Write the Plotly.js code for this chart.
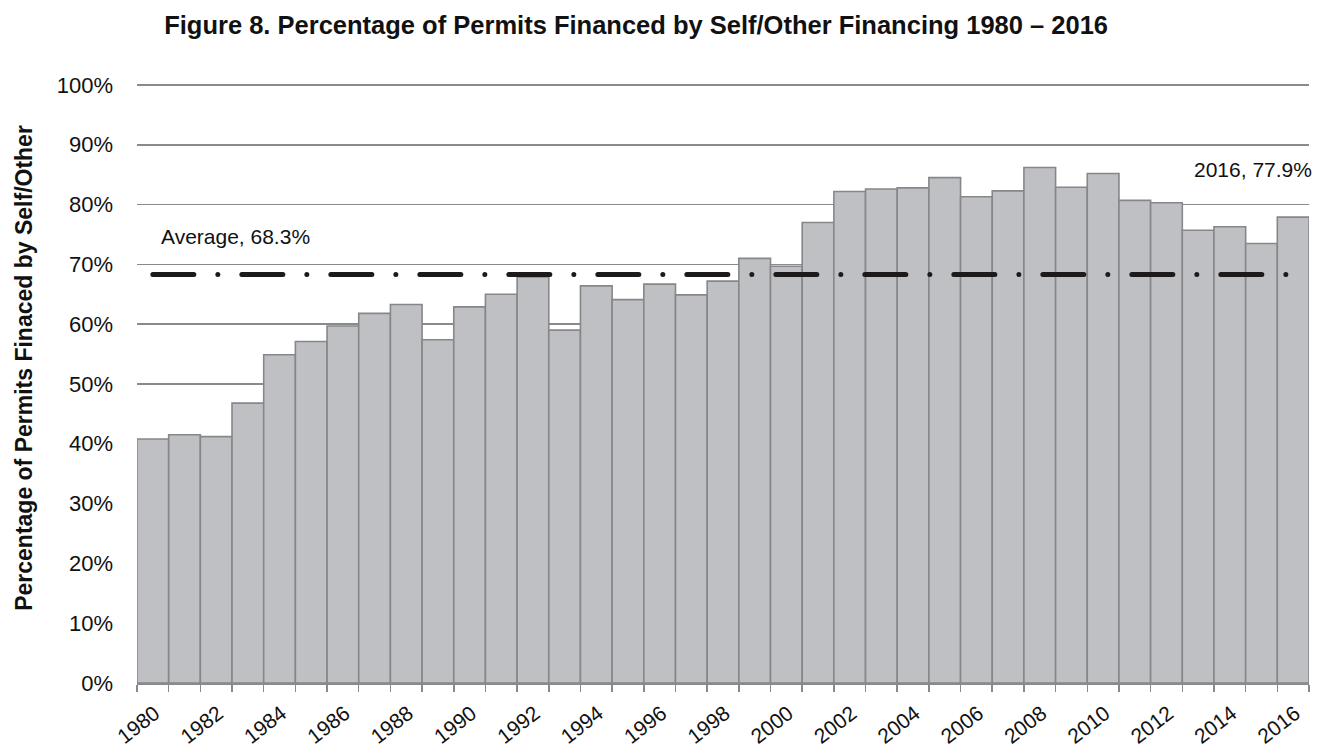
<!DOCTYPE html>
<html>
<head>
<meta charset="utf-8">
<script src="https://cdn.plot.ly/plotly-3.0.1.min.js"></script>
<style>
html, body { margin: 0; padding: 0; background: #ffffff; }
#chart { width: 1328px; height: 748px; }
.scatterlayer .js-line { stroke-linecap: round; }
</style>
</head>
<body>
<div id="chart"></div>
<script>
const years = [1980,1981,1982,1983,1984,1985,1986,1987,1988,1989,1990,1991,1992,1993,1994,1995,1996,1997,1998,1999,2000,2001,2002,2003,2004,2005,2006,2007,2008,2009,2010,2011,2012,2013,2014,2015,2016];
const selfOtherPct = [40.8,41.5,41.2,46.8,54.9,57.1,59.7,61.8,63.3,57.4,62.9,65.0,67.9,59.0,66.4,64.1,66.7,64.9,67.2,71.0,69.7,77.0,82.2,82.6,82.8,84.5,81.3,82.3,86.2,82.9,85.2,80.7,80.3,75.7,76.3,73.5,77.9];
const averageYears = [1980, 2016];
const averagePct = [68.3, 68.3];
const averageLabel = 'Average, 68.3%';
const lastLabel = '2016, 77.9%';
const titleText = 'Figure 8. Percentage of Permits Financed by Self/Other Financing 1980 – 2016';
const yTitleText = 'Percentage of Permits Finaced by Self/Other';

const FONT = '"Liberation Sans Narrow", "Arial Narrow", "Liberation Sans", Arial, sans-serif';

const traces = [
  {
    type: 'bar',
    x: years,
    y: selfOtherPct,
    marker: { color: '#bfc0c4', line: { color: '#87878a', width: 1.6 } },
    hoverinfo: 'x+y'
  },
  {
    type: 'scatter',
    mode: 'lines',
    x: averageYears,
    y: averagePct,
    line: { color: '#1c1a1b', width: 5, dash: '41px,24px,0px,24px' },
    hoverinfo: 'skip'
  }
];

const layout = {
  width: 1328,
  height: 748,
  margin: { l: 137, r: 19, t: 79, b: 65 },
  paper_bgcolor: '#ffffff',
  plot_bgcolor: '#ffffff',
  showlegend: false,
  bargap: 0,
  font: { family: FONT, color: '#111111', size: 22 },
  title: {
    text: '<b>' + titleText + '</b>',
    font: { family: FONT, size: 25.5, color: '#111111' },
    x: 0.479, xanchor: 'center', xref: 'container',
    y: 0.966, yanchor: 'middle'
  },
  xaxis: {
    type: 'linear',
    range: [1979.5, 2016.5],
    tick0: 1980,
    dtick: 2,
    ticks: '',
    tickangle: -38,
    tickfont: { family: FONT, size: 21, color: '#111111' },
    showgrid: false,
    zeroline: false,
    showline: true,
    linecolor: '#8a8a8c',
    linewidth: 2,
    minor: { tick0: 1979.5, dtick: 1, ticks: 'outside', ticklen: 7, tickwidth: 1.5, tickcolor: '#8a8a8c', showgrid: false },
    ticklabelstandoff: 8,
    ticklabelshift: 2,
    fixedrange: true
  },
  yaxis: {
    range: [0, 101],
    tick0: 0,
    dtick: 10,
    ticksuffix: '%',
    ticks: '',
    tickfont: { family: FONT, size: 22, color: '#111111' },
    showgrid: true,
    gridcolor: '#8a8a8c',
    gridwidth: 1.6,
    zeroline: false,
    showline: false,
    ticklabelstandoff: 23,
    fixedrange: true
  },
  annotations: [
    {
      text: averageLabel, x: 1980.2, y: 74.6, xref: 'x', yref: 'y',
      xanchor: 'left', yanchor: 'middle', showarrow: false,
      font: { family: FONT, size: 21, color: '#111111' }
    },
    {
      text: lastLabel, x: 1, xref: 'paper', y: 85.8, yref: 'y',
      xanchor: 'right', yanchor: 'middle', showarrow: false, xshift: 5,
      font: { family: FONT, size: 21, color: '#111111' }
    },
    {
      text: '<b>' + yTitleText + '</b>', textangle: -90,
      x: 0, xref: 'paper', xanchor: 'center', xshift: -(137 - 24),
      y: 52.7, yref: 'y', yanchor: 'middle', showarrow: false,
      font: { family: FONT, size: 23, color: '#111111' }
    }
  ]
};

Plotly.newPlot('chart', traces, layout, { displayModeBar: false, staticPlot: true });
</script>
</body>
</html>
